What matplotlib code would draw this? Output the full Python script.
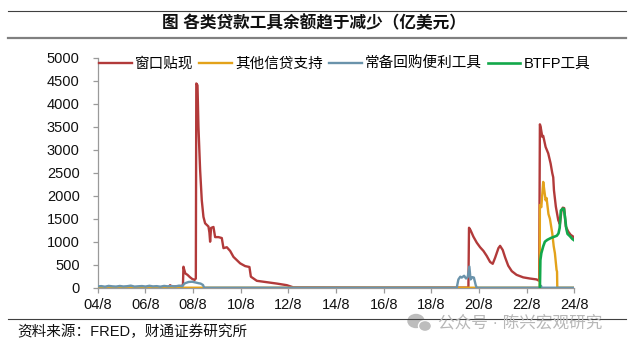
import matplotlib
matplotlib.use("Agg")
import matplotlib.pyplot as plt
from matplotlib.lines import Line2D
from matplotlib.patches import Ellipse

plt.rcParams['font.family'] = ['Liberation Sans', 'Noto Sans CJK SC']
plt.rcParams['axes.unicode_minus'] = False

# balances in 100 million USD, x in decimal years
dw_x = [2004.58, 2006.0, 2007.55, 2007.62, 2007.70, 2007.90, 2008.10, 2008.16, 2008.18,
        2008.22, 2008.26, 2008.35, 2008.45, 2008.55, 2008.65, 2008.70, 2008.72, 2008.77,
        2008.81, 2008.88, 2008.95, 2009.02, 2009.09, 2009.23, 2009.27, 2009.30, 2009.34,
        2009.44, 2009.51, 2009.65, 2009.79, 2009.86, 2010.00, 2010.14, 2010.28, 2010.42,
        2010.56, 2010.77, 2010.95, 2011.01, 2011.26, 2011.68, 2012.10, 2012.52, 2012.79,
        2016.0, 2020.14, 2020.165, 2020.23, 2020.35, 2020.49, 2020.63, 2020.77, 2020.91,
        2021.05, 2021.16, 2021.26, 2021.40, 2021.47, 2021.58, 2021.68, 2021.81, 2021.96,
        2022.16, 2022.44, 2022.72, 2023.00, 2023.11, 2023.14, 2023.17, 2023.24, 2023.28,
        2023.38, 2023.49, 2023.59, 2023.66, 2023.70, 2023.73, 2023.81, 2023.91, 2023.98,
        2024.04, 2024.10, 2024.16, 2024.23, 2024.33, 2024.43, 2024.54, 2024.58]
dw_y = [2, 2, 2, 55, 20, 30, 40, 60, 456,
        380, 310, 280, 230, 190, 170, 200, 4440, 4400,
        3500, 2560, 1900, 1540, 1400, 1330, 1200, 1000, 1300,
        1320, 1100, 1100, 1080, 860, 880, 800, 670, 600,
        530, 470, 450, 240, 150, 120, 90, 55, 8,
        3, 3, 1304, 1250, 1109, 980, 880, 800, 690,
        560, 520, 650, 860, 910, 820, 660, 480, 360,
        280, 225, 200, 180, 150, 3551, 3500, 3280, 3300,
        3060, 2920, 2700, 2490, 2400, 2120, 1760, 1470, 1380,
        1650, 1740, 1730, 1330, 1220, 1150, 1110, 1060]

other_x = [2004.58, 2023.13, 2023.14, 2023.20, 2023.25, 2023.28, 2023.33, 2023.38, 2023.42,
           2023.50, 2023.56, 2023.66, 2023.72, 2023.77, 2023.84, 2023.86, 2023.87, 2024.58]
other_y = [0, 0, 1800, 1750, 2100, 2300, 2100, 1900, 1950,
           1600, 1500, 1180, 900, 750, 385, 350, 0, 0]

repo_x = [2004.58, 2004.73, 2004.89, 2005.04, 2005.20, 2005.35, 2005.51, 2005.66, 2005.82,
          2005.97, 2006.13, 2006.28, 2006.44, 2006.59, 2006.75, 2006.90, 2007.06, 2007.21,
          2007.37, 2007.52, 2007.68, 2007.83, 2007.99, 2008.14, 2008.20, 2008.26, 2008.40,
          2008.55, 2008.68, 2008.80, 2008.90, 2009.00, 2009.05, 2019.65, 2019.72, 2019.80,
          2019.86, 2019.96, 2020.04, 2020.11, 2020.18, 2020.23, 2020.31, 2020.37, 2020.45,
          2020.49, 2023.13, 2023.15, 2023.19, 2023.21, 2024.58]
repo_y = [28, 35, 22, 40, 30, 25, 38, 27, 33,
          45, 24, 31, 36, 26, 42, 29, 34, 23,
          39, 30, 37, 28, 44, 32, 80, 100, 125,
          130, 115, 100, 90, 60, 0, 0, 180, 240,
          220, 260, 200, 230, 460, 180, 230, 220, 50,
          0, 0, 40, 40, 0, 0]

btfp_x = [2023.14, 2023.16, 2023.20, 2023.28, 2023.35, 2023.45, 2023.60, 2023.75, 2023.85,
          2023.92, 2023.97, 2024.02, 2024.10, 2024.15, 2024.20, 2024.25, 2024.30, 2024.40,
          2024.50, 2024.58]
btfp_y = [0, 600, 750, 900, 1000, 1040, 1080, 1110, 1130,
          1180, 1300, 1680, 1720, 1710, 1500, 1280, 1170, 1120,
          1060, 1030]

series_names = ['窗口贴现', '其他信贷支持', '常备回购便利工具', 'BTFP工具']
tick_years = [2004.583 + 2 * i for i in range(11)]
tick_labels = ['04/8', '06/8', '08/8', '10/8', '12/8', '14/8', '16/8', '18/8', '20/8', '22/8', '24/8']

fig = plt.figure(figsize=(6.4, 3.49), dpi=100)
ax = fig.add_axes([0.1527, 0.1756, 0.7446, 0.6591])

ax.plot(dw_x, dw_y, color='#B23A3A', lw=1.7, label=series_names[0], zorder=2)
ax.plot(other_x, other_y, color='#E3A21A', lw=1.7, label=series_names[1], zorder=3)
ax.plot(repo_x, repo_y, color='#6A93AB', lw=1.7, label=series_names[2], zorder=4)
ax.plot(btfp_x, btfp_y, color='#12A84A', lw=1.9, label=series_names[3], zorder=5)

ax.set_xlim(tick_years[0], tick_years[-1])
ax.set_ylim(0, 5000)
ax.set_yticks(range(0, 5001, 500))
ax.set_xticks(tick_years)
ax.set_xticklabels(tick_labels)

for side in ['top', 'right']:
    ax.spines[side].set_visible(False)
for side in ['left', 'bottom']:
    ax.spines[side].set_color('#9a9a9a')
    ax.spines[side].set_linewidth(0.9)
ax.tick_params(axis='both', direction='out', length=3.5, width=0.9, color='#9a9a9a',
               labelsize=10.5, labelcolor='#111111')
ax.tick_params(axis='y', pad=9.5)
ax.tick_params(axis='x', pad=4)

ax.legend(loc='upper left', bbox_to_anchor=(0.003, 1.004), ncol=4, frameon=False,
          fontsize=10.5, handlelength=2.26, handletextpad=0.2, columnspacing=0.4,
          borderpad=0, borderaxespad=0)

# header and footer rules
fig.add_artist(Line2D([8 / 640, 626 / 640], [0.9693, 0.9693], color='#404040', lw=0.8))
fig.add_artist(Line2D([8 / 640, 626 / 640], [0.892, 0.892], color='#808080', lw=1.6))
fig.add_artist(Line2D([8 / 640, 626 / 640], [0.086, 0.086], color='#404040', lw=0.8))

fig.text(0.49, 0.935, '图 各类贷款工具余额趋于减少（亿美元）', ha='center', va='center',
         fontsize=12, fontweight='bold', color='#111111')
fig.text(0.0266, 0.049, '资料来源：FRED，财通证券研究所', ha='left', va='center',
         fontsize=10.5, color='#111111')

# watermark
fig.add_artist(Ellipse((416 / 640, 1 - 321 / 349), 16 / 640, 13 / 349, color='#bdbdbd'))
fig.add_artist(Ellipse((425 / 640, 1 - 326 / 349), 13 / 640, 11 / 349, facecolor='#bdbdbd',
                       edgecolor='white', lw=1))
fig.text(438 / 640, 1 - 323 / 349, '公众号 · 陈兴宏观研究', ha='left', va='center',
         fontsize=12, color='#b8b8b8')

fig.savefig('out.png', dpi=100)
